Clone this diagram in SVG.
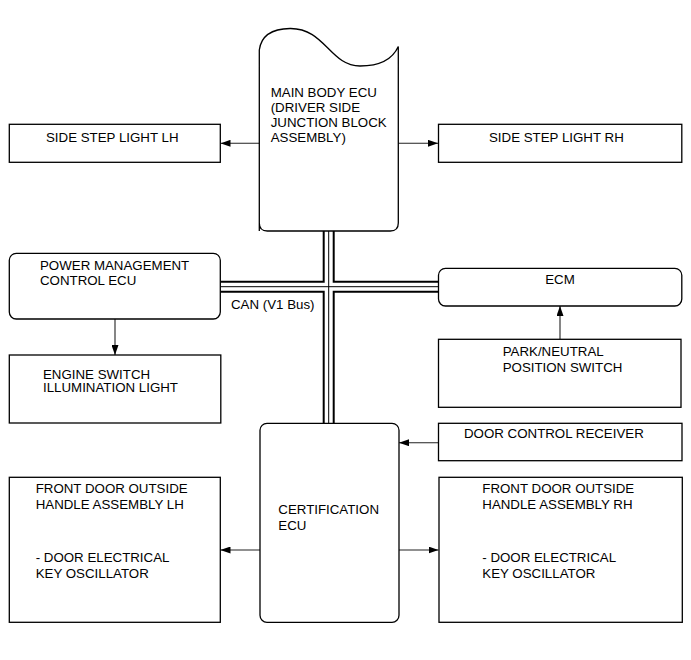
<svg xmlns="http://www.w3.org/2000/svg" width="691" height="660" viewBox="0 0 691 660">
<style>
  .box { fill: #fff; stroke: #000; stroke-width: 1.3; }
  .t { font-family: "Liberation Sans", Arial, sans-serif; font-size: 13.3px; fill: #000; }
  .c { stroke: #222; stroke-width: 1.1; fill: none; }
  .busO { stroke: #000; stroke-width: 12; fill: none; }
  .busW { stroke: #fff; stroke-width: 8; fill: none; }
  .busC { stroke: #000; stroke-width: 1; fill: none; }
</style>
<defs>
  <marker id="arr" markerWidth="10" markerHeight="7" refX="10" refY="3.5" orient="auto" markerUnits="userSpaceOnUse">
    <path d="M0,0 L10,3.5 L0,7 Z" fill="#000"/>
  </marker>
</defs>
<rect width="691" height="660" fill="#fff"/>

<g id="connectors">
  <!-- CAN bus -->
  <path class="busO" d="M328.7,231 V423.5 M220.5,286.7 H438.5"/>
  <path class="busW" d="M328.7,229 V425.5 M218.5,286.7 H440.5"/>
  <path class="busC" d="M328.7,231 V423.5 M220.5,286.7 H438.5"/>
  <text class="t" x="231" y="309">CAN (V1 Bus)</text>
  <!-- arrows -->
  <line class="c" x1="259.5" y1="143.3" x2="220.5" y2="143.3" marker-end="url(#arr)"/>
  <line class="c" x1="398.5" y1="143.3" x2="438" y2="143.3" marker-end="url(#arr)"/>
  <line class="c" x1="115" y1="319" x2="115" y2="355" marker-end="url(#arr)"/>
  <line class="c" x1="560" y1="339.3" x2="560" y2="306" marker-end="url(#arr)"/>
  <line class="c" x1="438.5" y1="442.7" x2="399" y2="442.7" marker-end="url(#arr)"/>
  <line class="c" x1="260" y1="550" x2="220.5" y2="550" marker-end="url(#arr)"/>
  <line class="c" x1="399" y1="550" x2="438.5" y2="550" marker-end="url(#arr)"/>
</g>

<g id="main-body-ecu">
  <path class="box" d="M259.3,231 V50 Q262,29 290,28.5 C325,28 330,66 360,66 C384,66 394,56 398.3,46.5 V223 Q398.3,231 390.3,231 H267.3 Q259.3,231 259.3,223 Z"/>
  <text class="t" x="270.7" y="97.3">MAIN BODY ECU</text>
  <text class="t" x="270.7" y="112.2">(DRIVER SIDE</text>
  <text class="t" x="270.7" y="127">JUNCTION BLOCK</text>
  <text class="t" x="270.7" y="141.7">ASSEMBLY)</text>
</g>

<g id="side-step-lh">
  <rect class="box" x="9.3" y="124.3" width="211" height="38"/>
  <text class="t" x="46" y="142">SIDE STEP LIGHT LH</text>
</g>

<g id="side-step-rh">
  <rect class="box" x="438.5" y="124.3" width="243.3" height="38"/>
  <text class="t" x="489" y="142">SIDE STEP LIGHT RH</text>
</g>

<g id="power-management-ecu">
  <rect class="box" x="9.3" y="253.3" width="211" height="65.7" rx="7" ry="7"/>
  <text class="t" x="40" y="270">POWER MANAGEMENT</text>
  <text class="t" x="40" y="285">CONTROL ECU</text>
</g>

<g id="engine-switch-light">
  <rect class="box" x="9.3" y="355" width="211.5" height="68"/>
  <text class="t" x="43" y="378.5">ENGINE SWITCH</text>
  <text class="t" x="43" y="392">ILLUMINATION LIGHT</text>
</g>

<g id="ecm">
  <rect class="box" x="438.5" y="268.3" width="243.3" height="37.7" rx="7" ry="7"/>
  <text class="t" x="560" y="284.3" text-anchor="middle">ECM</text>
</g>

<g id="park-neutral-switch">
  <rect class="box" x="438.5" y="339.3" width="242.5" height="68"/>
  <text class="t" x="502.7" y="356">PARK/NEUTRAL</text>
  <text class="t" x="502.7" y="371.5">POSITION SWITCH</text>
</g>

<g id="door-control-receiver">
  <rect class="box" x="438.5" y="423.3" width="243.5" height="37.4"/>
  <text class="t" x="464" y="438.3">DOOR CONTROL RECEIVER</text>
</g>

<g id="certification-ecu">
  <rect class="box" x="260" y="423.3" width="139" height="199" rx="7" ry="7"/>
  <text class="t" x="278.3" y="514">CERTIFICATION</text>
  <text class="t" x="278.3" y="530">ECU</text>
</g>

<g id="front-door-lh">
  <rect class="box" x="9.3" y="477.3" width="211" height="145"/>
  <text class="t" x="35.7" y="493.3">FRONT DOOR OUTSIDE</text>
  <text class="t" x="35.7" y="509.3">HANDLE ASSEMBLY LH</text>
  <text class="t" x="35.7" y="561.7">- DOOR ELECTRICAL</text>
  <text class="t" x="35.7" y="577.7">KEY OSCILLATOR</text>
</g>

<g id="front-door-rh">
  <rect class="box" x="439" y="477.3" width="243.3" height="145"/>
  <text class="t" x="482.3" y="493.3">FRONT DOOR OUTSIDE</text>
  <text class="t" x="482.3" y="509.3">HANDLE ASSEMBLY RH</text>
  <text class="t" x="482.3" y="561.7">- DOOR ELECTRICAL</text>
  <text class="t" x="482.3" y="577.7">KEY OSCILLATOR</text>
</g>
</svg>
